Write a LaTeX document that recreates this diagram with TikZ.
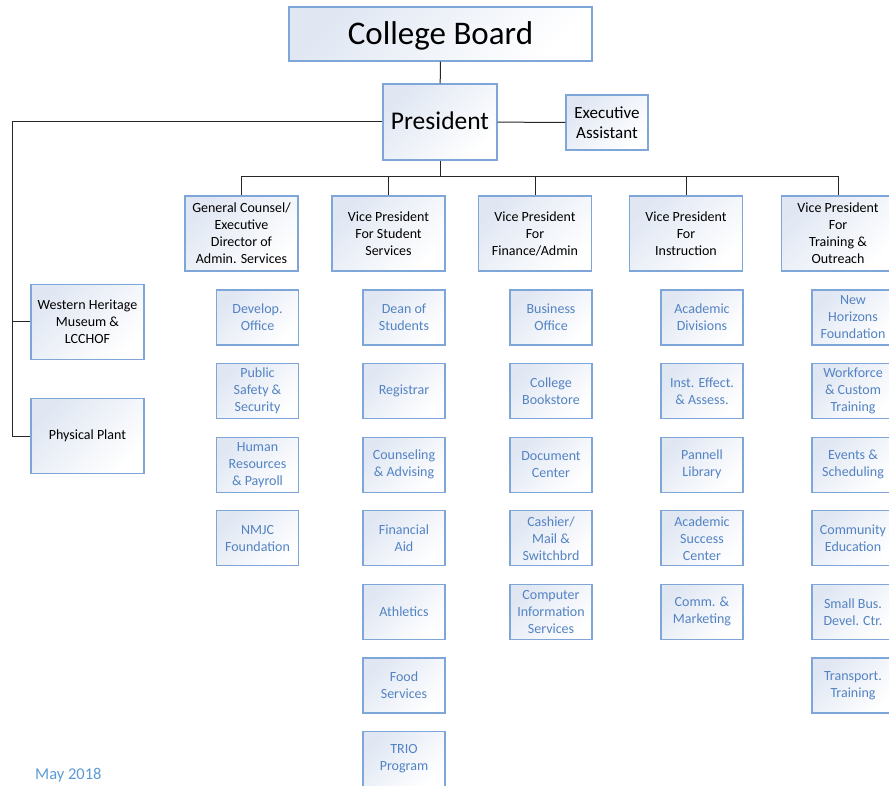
\documentclass[tikz,border=0pt]{standalone}
\usepackage{fontspec}
\setmainfont{Carlito}
\usetikzlibrary{calc}
\definecolor{boxline}{HTML}{7EA6D8}
\definecolor{boxtint}{HTML}{E0E7F3}
\definecolor{unittext}{HTML}{5383C3}
\definecolor{datetext}{HTML}{5B9BD5}
\tikzset{
	box/.style={draw=boxline, line width=1.1pt, top color=boxtint, bottom color=white, shading angle=45, inner sep=0pt, align=center},
	head/.style={box, minimum width=113pt, minimum height=75pt, font=\fontsize{14}{17}\selectfont},
	unit/.style={box, minimum width=82pt, minimum height=55pt, text=unittext, font=\fontsize{14}{17}\selectfont},
	link/.style={line width=1pt, black!85}
}
\begin{document}
\begin{tikzpicture}[x=1pt, y=-1pt]
			%%%%% START %%%%%
			\useasboundingbox (0, 0) rectangle (889, 786);
			
			\node[box, minimum width=303pt, minimum height=54pt, text depth=2pt, font=\fontsize{33}{36}\selectfont] (brd) at (440.5, 34) {College Board};
			\node[box, minimum width=114pt, minimum height=76pt, text depth=2pt, font=\fontsize{25.5}{28}\selectfont] (pres) at (440, 122) {President};
			\node[box, minimum width=82pt, minimum height=55pt, font=\fontsize{17}{19.5}\selectfont] (asst) at (607, 122.5) {Executive\\Assistant};
			
			\node[head] (museum) at (87.5, 322) {Western Heritage\\Museum \&\\LCCHOF};
			\node[head] (plant) at (87.5, 436) {Physical Plant};
			
			\node[head] (vp1) at (241.5, 233.5) {General Counsel/\\Executive\\Director of\\Admin. Services};
			\node[head] (vp2) at (388.5, 233.5) {Vice President\\For Student\\Services};
			\node[head] (vp3) at (535, 233.5) {Vice President\\For\\Finance/Admin};
			\node[head] (vp4) at (686, 233.5) {Vice President\\For\\Instruction};
			\node[head] (vp5) at (838, 233.5) {Vice President\\For\\Training \&\\Outreach};
			
			% units under each vice president
			\foreach \lbl [count=\i] in {{Develop.\\Office}, {Public\\Safety \&\\Security}, {Human\\Resources\\\& Payroll}, {NMJC\\Foundation}}
				\node[unit] (gc\i) at (257.5, {317.5+73.6*(\i-1)}) {\lbl};
			\foreach \lbl [count=\i] in {{Dean of\\Students}, {Registrar}, {Counseling\\\& Advising}, {Financial\\Aid}, {Athletics}, {Food\\Services}, {TRIO\\Program}}
				\node[unit] (ss\i) at (404, {317.5+73.6*(\i-1)}) {\lbl};
			\foreach \lbl [count=\i] in {{Business\\Office}, {College\\Bookstore}, {Document\\Center}, {Cashier/\\Mail \&\\Switchbrd}, {Computer\\Information\\Services}}
				\node[unit] (fa\i) at (551, {317.5+73.6*(\i-1)}) {\lbl};
			\foreach \lbl [count=\i] in {{Academic\\Divisions}, {Inst. Effect.\\\& Assess.}, {Pannell\\Library}, {Academic\\Success\\Center}, {Comm. \&\\Marketing}}
				\node[unit] (in\i) at (702, {317.5+73.6*(\i-1)}) {\lbl};
			\foreach \lbl [count=\i] in {{New\\Horizons\\Foundation}, {Workforce\\\& Custom\\Training}, {Events \&\\Scheduling}, {Community\\Education}, {Small Bus.\\Devel. Ctr.}, {Transport.\\Training}}
				\node[unit] (to\i) at (853, {317.5+73.6*(\i-1)}) {\lbl};
			
			% reporting lines
			\draw[link] (brd) -- (pres);
			\draw[link] (pres) -- (asst);
			
			\coordinate (lbus) at (12, 122);
			\draw[link] (pres.west) -- (lbus) |- (plant.west);
			\draw[link] (lbus) |- (museum.west);
			
			\coordinate (bus) at (440, 177);
			\draw[link] (pres.south) -- (bus);
			\foreach \v in {vp1, vp2, vp3, vp4, vp5}
				\draw[link] (bus) -| (\v.north);
			
			\node[text=datetext, font=\fontsize{16.5}{18}\selectfont, anchor=west, inner sep=0pt] (date) at (35, 775) {May 2018};
			%%%%% END %%%%%
\end{tikzpicture}
\end{document}
